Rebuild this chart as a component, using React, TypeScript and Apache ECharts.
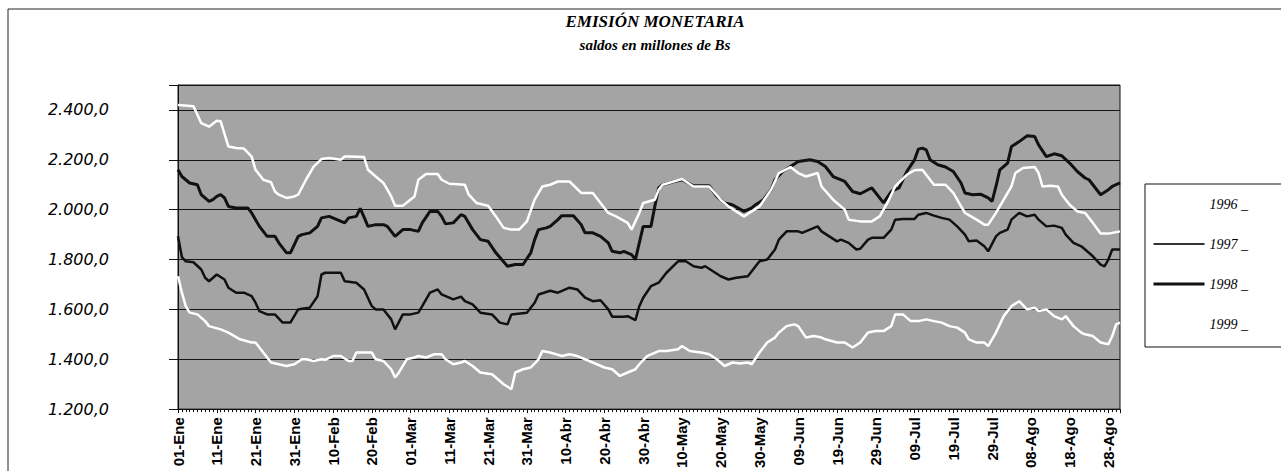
import React, { useEffect, useRef } from "react";
import * as echarts from "echarts";

// Tick labels of the day axis (one every 10 days, day 0 = 01-Ene)
const xTickLabels = [
  "01-Ene", "11-Ene", "21-Ene", "31-Ene", "10-Feb", "20-Feb", "01-Mar", "11-Mar", "21-Mar",
  "31-Mar", "10-Abr", "20-Abr", "30-Abr", "10-May", "20-May", "30-May", "09-Jun", "19-Jun",
  "29-Jun", "09-Jul", "19-Jul", "29-Jul", "08-Ago", "18-Ago", "28-Ago",
];

const seriesNames = ["1996", "1997", "1998", "1999"];

// [day index, saldo en millones de Bs]
const s1996: [number, number][] = [
  [0,1733],[1,1667],[2,1613],[3,1587],[5,1580],[7,1553],[8,1533],[11,1520],[13,1507],[16,1480],
  [19,1467],[20,1467],[22,1427],[24,1387],[26,1380],[28,1373],[30,1380],[32,1400],[33,1400],[35,1393],
  [37,1400],[38,1398],[40,1413],[42,1413],[44,1393],[45,1393],[46,1427],[50,1427],[51,1400],[53,1393],
  [55,1360],[56,1327],[57,1347],[59,1400],[61,1407],[62,1413],[64,1407],[66,1420],[68,1420],[69,1400],
  [71,1380],[73,1387],[74,1393],[76,1373],[78,1347],[81,1340],[82,1327],[84,1300],[86,1280],[87,1347],
  [89,1360],[91,1367],[93,1400],[94,1433],[96,1427],[99,1413],[101,1420],[103,1413],[105,1400],[107,1387],
  [110,1367],[112,1360],[114,1333],[116,1347],[118,1360],[119,1380],[121,1413],[124,1433],[126,1433],[129,1440],
  [130,1453],[132,1433],[135,1427],[137,1420],[139,1400],[141,1373],[143,1387],[145,1383],[147,1387],[148,1380],
  [150,1427],[152,1467],[154,1487],[155,1507],[157,1533],[159,1540],[160,1533],[162,1487],[164,1493],[166,1487],
  [167,1480],[170,1467],[172,1467],[174,1447],[176,1467],[178,1507],[180,1513],[182,1513],[184,1533],[185,1580],
  [187,1580],[189,1553],[191,1553],[193,1560],[195,1553],[197,1547],[199,1533],[201,1527],[203,1507],[204,1480],
  [206,1467],[208,1467],[209,1453],[211,1507],[213,1573],[215,1613],[217,1633],[219,1600],[221,1607],[222,1593],
  [224,1600],[226,1573],[228,1560],[229,1573],[231,1533],[233,1507],[234,1500],[236,1493],[238,1467],[240,1460],
  [241,1493],[242,1540],[243,1547],
];

const s1997: [number, number][] = [
  [0,1893],[1,1810],[2,1793],[4,1789],[6,1760],[7,1727],[8,1713],[10,1740],[12,1720],[13,1687],
  [15,1667],[17,1667],[19,1653],[20,1627],[21,1593],[23,1580],[25,1580],[27,1547],[29,1547],[31,1600],
  [32,1603],[34,1607],[36,1653],[37,1740],[38,1747],[42,1747],[43,1713],[46,1707],[48,1680],[50,1613],
  [51,1600],[53,1600],[55,1560],[56,1520],[58,1580],[60,1580],[62,1587],[63,1613],[65,1667],[67,1680],
  [68,1660],[71,1640],[73,1651],[74,1633],[76,1620],[78,1587],[81,1580],[83,1547],[85,1540],[86,1580],
  [90,1587],[92,1627],[93,1660],[96,1675],[98,1667],[101,1687],[103,1680],[105,1647],[107,1633],[109,1637],
  [111,1600],[112,1571],[115,1571],[116,1573],[118,1557],[119,1613],[120,1647],[122,1693],[124,1707],[126,1747],
  [129,1793],[131,1793],[133,1773],[135,1767],[136,1773],[138,1753],[140,1733],[142,1720],[144,1727],[147,1733],
  [148,1753],[150,1793],[152,1800],[154,1840],[155,1880],[157,1913],[160,1913],[161,1907],[163,1920],[165,1933],
  [166,1913],[168,1893],[170,1873],[171,1880],[173,1867],[175,1840],[176,1843],[178,1880],[179,1887],[182,1887],
  [184,1920],[185,1960],[187,1963],[190,1963],[191,1980],[193,1987],[195,1976],[197,1967],[199,1960],[201,1933],
  [203,1900],[204,1873],[206,1876],[208,1853],[209,1833],[211,1893],[212,1907],[214,1920],[215,1960],[217,1987],
  [219,1973],[221,1980],[222,1960],[224,1933],[226,1936],[228,1927],[229,1900],[231,1867],[233,1853],[234,1840],
  [236,1813],[238,1780],[239,1773],[240,1800],[241,1840],[243,1840],
];

const s1998: [number, number][] = [
  [0,2160],[1,2133],[3,2107],[5,2100],[6,2060],[8,2033],[9,2040],[10,2053],[11,2060],[12,2047],
  [13,2013],[15,2007],[18,2007],[19,1987],[21,1933],[23,1893],[25,1893],[26,1867],[28,1827],[29,1827],
  [31,1893],[32,1900],[34,1907],[36,1933],[37,1967],[39,1973],[41,1960],[43,1947],[44,1967],[46,1973],
  [47,2005],[48,1970],[49,1933],[51,1940],[53,1940],[54,1933],[56,1893],[58,1920],[60,1920],[62,1913],
  [63,1947],[65,1993],[67,1993],[68,1973],[69,1943],[71,1947],[73,1980],[74,1973],[76,1920],[78,1880],
  [80,1873],[82,1827],[85,1773],[87,1780],[89,1780],[91,1827],[92,1880],[93,1920],[95,1927],[96,1933],
  [98,1960],[99,1976],[102,1976],[104,1940],[105,1907],[107,1907],[109,1893],[111,1867],[112,1833],[114,1827],
  [115,1833],[117,1820],[118,1800],[119,1867],[120,1933],[122,1933],[123,2013],[124,2087],[125,2100],[128,2113],
  [130,2120],[133,2096],[137,2096],[139,2053],[141,2027],[143,2020],[146,1993],[148,2007],[149,2020],[151,2040],
  [153,2080],[154,2120],[156,2153],[158,2173],[160,2193],[163,2200],[165,2193],[167,2173],[169,2133],[172,2113],
  [174,2073],[176,2064],[178,2080],[179,2087],[181,2047],[182,2027],[184,2073],[186,2087],[188,2153],[190,2200],
  [191,2243],[192,2247],[193,2240],[194,2200],[196,2180],[198,2171],[200,2153],[202,2107],[203,2067],[205,2060],
  [207,2062],[209,2047],[210,2033],[211,2093],[212,2160],[214,2187],[215,2253],[217,2273],[219,2296],[221,2293],
  [222,2260],[224,2213],[226,2224],[228,2216],[230,2187],[232,2153],[234,2127],[235,2120],[237,2080],[238,2060],
  [240,2080],[241,2093],[243,2107],
];

const s1999: [number, number][] = [
  [0,2420],[4,2415],[6,2347],[8,2333],[10,2357],[11,2355],[13,2253],[15,2247],[17,2245],[19,2213],
  [20,2160],[22,2120],[24,2110],[25,2073],[26,2060],[28,2047],[30,2053],[31,2060],[33,2120],[35,2173],
  [37,2203],[39,2207],[42,2200],[43,2213],[44,2213],[48,2211],[49,2160],[51,2133],[53,2107],[55,2053],
  [56,2016],[58,2016],[61,2053],[62,2120],[64,2143],[67,2143],[68,2120],[70,2104],[74,2100],[75,2060],
  [77,2027],[80,2016],[82,1973],[84,1927],[86,1920],[88,1920],[90,1953],[92,2040],[94,2093],[96,2100],
  [98,2113],[101,2113],[104,2067],[107,2067],[109,2027],[111,1987],[113,1973],[116,1947],[117,1920],[119,1987],
  [120,2027],[123,2040],[124,2080],[125,2100],[130,2123],[133,2093],[137,2093],[140,2040],[142,2013],[146,1973],
  [148,1993],[150,2013],[153,2080],[155,2147],[158,2171],[160,2147],[162,2133],[165,2147],[166,2093],[169,2040],
  [172,2000],[173,1960],[176,1953],[179,1953],[181,1973],[183,2027],[185,2093],[188,2140],[190,2158],[192,2160],
  [194,2120],[195,2100],[198,2100],[200,2067],[202,2013],[203,1987],[206,1960],[208,1940],[209,1940],[211,1987],
  [213,2040],[215,2093],[216,2147],[218,2167],[221,2171],[222,2147],[223,2093],[225,2096],[227,2093],[228,2060],
  [230,2020],[232,1993],[234,1987],[236,1947],[238,1904],[240,1904],[243,1913],
];

const seriesData = [s1996, s1997, s1998, s1999];
const seriesColors = ["#ffffff", "#111111", "#111111", "#ffffff"];
const seriesWidths = [2.5, 2.5, 3, 2.5];
const legendLineWidths = [2, 2, 3, 2];
const legendLineColors = ["#ffffff", "#333333", "#111111", "#ffffff"];

function fmtY(v: number): string {
  if (v > 2400) return "";
  const th = Math.floor(v / 1000);
  const rest = String(v % 1000).padStart(3, "0");
  return `${th}.${rest},0`;
}

export default function App() {
  const ref = useRef<HTMLDivElement>(null);
  useEffect(() => {
    if (!ref.current) return;
    const chart = echarts.init(ref.current, undefined, { renderer: "svg" });
    chart.setOption({
      animation: false,
      backgroundColor: "#ffffff",
      grid: {
        left: 178,
        right: 161,
        top: 85,
        bottom: 61,
        show: true,
        backgroundColor: "#a4a4a4",
        borderColor: "#111111",
        borderWidth: 1,
      },
      graphic: [
        {
          type: "rect",
          shape: { x: 8, y: 9, width: 1300, height: 500 },
          style: { fill: "none", stroke: "#222", lineWidth: 1 },
          silent: true,
          z: -10,
        },
        {
          type: "rect",
          shape: { x: 1145, y: 184, width: 200, height: 163 },
          style: { fill: "#ffffff", stroke: "#111", lineWidth: 1 },
          silent: true,
          z: 0,
        },
        {
          type: "text",
          x: 655,
          y: 21,
          style: {
            text: "EMISIÓN MONETARIA",
            textAlign: "center",
            textVerticalAlign: "middle",
            fontFamily: "'Liberation Serif', 'Times New Roman', serif",
            fontWeight: "bold",
            fontStyle: "italic",
            fontSize: 17,
            fill: "#000",
          },
        },
        {
          type: "text",
          x: 655,
          y: 45,
          style: {
            text: "saldos en millones de Bs",
            textAlign: "center",
            textVerticalAlign: "middle",
            fontFamily: "'Liberation Serif', 'Times New Roman', serif",
            fontWeight: "bold",
            fontStyle: "italic",
            fontSize: 15,
            fill: "#000",
          },
        },
      ],
      legend: {
        orient: "vertical",
        left: 1152,
        top: 197,
        padding: 0,
        itemWidth: 51,
        itemHeight: 14,
        itemGap: 26,
        data: seriesNames.map((name, i) => ({
          name,
          lineStyle: { width: legendLineWidths[i], color: legendLineColors[i] },
        })),
        itemStyle: { opacity: 0, borderWidth: 0 },
        formatter: "{name} _",
        textStyle: {
          fontFamily: "'Liberation Serif', 'Times New Roman', serif",
          fontStyle: "italic",
          fontSize: 14,
          color: "#000",
        },
        z: 5,
      },
      xAxis: {
        type: "value",
        min: 0,
        max: 243,
        interval: 10,
        axisLine: { onZero: false, lineStyle: { color: "#111", width: 1 } },
        axisTick: { show: true, length: 4, lineStyle: { color: "#111" } },
        minorTick: { show: true, splitNumber: 10, length: 3, lineStyle: { color: "#111" } },
        splitLine: { show: false },
        axisLabel: {
          rotate: 90,
          margin: 8,
          color: "#000",
          fontFamily: "'Liberation Sans Narrow', 'Liberation Sans', Arial, sans-serif",
          fontWeight: "bold",
          fontSize: 15,
          formatter: (v: number) => (v % 10 === 0 && xTickLabels[v / 10] ? xTickLabels[v / 10] : ""),
        },
      },
      yAxis: {
        type: "value",
        min: 1200,
        max: 2500,
        interval: 200,
        axisLine: { show: true, lineStyle: { color: "#111", width: 1 } },
        axisTick: { show: true, length: 9, lineStyle: { color: "#111" } },
        splitLine: { show: true, lineStyle: { color: "#151515", width: 1 } },
        axisLabel: {
          margin: 69,
          color: "#000",
          fontFamily: "'DejaVu Sans', 'Liberation Sans', sans-serif",
          fontStyle: "italic",
          fontSize: 16,
          formatter: fmtY,
        },
      },
      series: seriesNames.map((name, i) => ({
        name,
        type: "line",
        data: seriesData[i],
        symbol: "none",
        showSymbol: false,
        lineStyle: { color: seriesColors[i], width: seriesWidths[i] },
        itemStyle: { color: seriesColors[i] },
        z: 3,
      })),
    });
    return () => chart.dispose();
  }, []);
  return (
    <div
      ref={ref}
      style={{ position: "fixed", left: 0, top: 0, width: 1281, height: 471 }}
    />
  );
}
